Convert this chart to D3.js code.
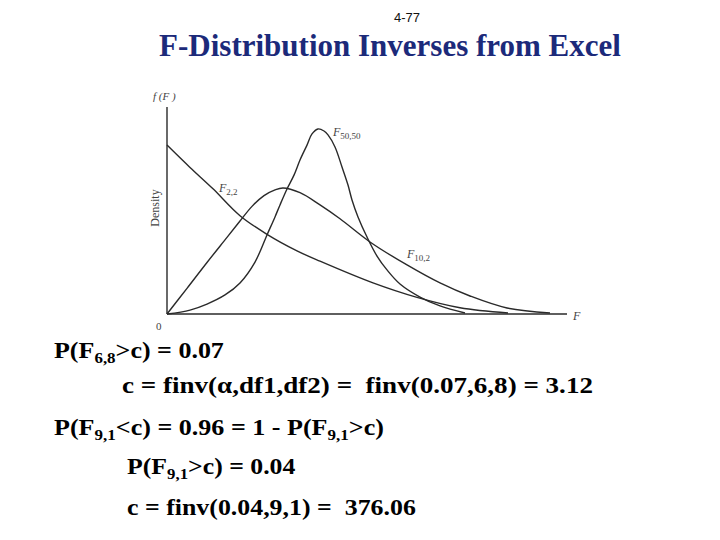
<!DOCTYPE html>
<html>
<head>
<meta charset="utf-8">
<script src="https://cdn.jsdelivr.net/npm/d3@7"></script>
<style>
  html, body { margin: 0; padding: 0; background: #fff; }
  svg { display: block; }
  text { white-space: pre; }
</style>
</head>
<body>
<div id="chart"></div>
<script>
// density curves: [F, density]
const f22 = [[0,0.816],[0.23,0.708],[0.46,0.605],[0.73,0.475],[1.00,0.385],[1.30,0.305],[1.53,0.255],
  [2.06,0.150],[2.50,0.080],[2.93,0.030],[3.41,0.005]];
const f102 = [[0,0],[0.20,0.124],[0.40,0.249],[0.60,0.370],[0.73,0.449],[0.85,0.520],[0.97,0.572],
  [1.08,0.600],[1.16,0.609],[1.33,0.586],[1.53,0.527],[1.73,0.460],[2.03,0.348],[2.40,0.237],
  [2.73,0.150],[3.03,0.087],[3.40,0.029],[3.83,0.005]];
const f5050 = [[0,0],[0.23,0.019],[0.40,0.048],[0.58,0.092],[0.73,0.150],[0.88,0.251],[1.00,0.382],
  [1.08,0.469],[1.13,0.527],[1.20,0.604],[1.27,0.671],[1.33,0.744],[1.40,0.816],[1.45,0.870],
  [1.51,0.894],[1.57,0.884],[1.61,0.865],[1.68,0.807],[1.75,0.710],[1.81,0.623],[1.85,0.551],
  [1.91,0.469],[2.00,0.372],[2.10,0.280],[2.20,0.213],[2.33,0.145],[2.53,0.082],[2.73,0.039],[2.98,0.005]];

// where each curve label sits, in data units
const curveLabels = [
  { main: "F", sub: "2,2", at: [0.52, 0.59] },
  { main: "F", sub: "10,2", at: [2.40, 0.27] },
  { main: "F", sub: "50,50", at: [1.66, 0.86] }
];

// formula lines: [text, isSubscript]
const lines = [
  [["P(F", 0], ["6,8", 1], [">c) = 0.07", 0]],
  [["c = finv(\u03b1,df1,df2) =  finv(0.07,6,8) = 3.12", 0]],
  [["P(F", 0], ["9,1", 1], ["<c) = 0.96 = 1 - P(F", 0], ["9,1", 1], [">c)", 0]],
  [["P(F", 0], ["9,1", 1], [">c) = 0.04", 0]],
  [["c = finv(0.04,9,1) =  376.06", 0]]
];
const lineX = [54, 122, 54, 127, 127];
const lineY = [358, 393, 435, 474, 515];
const lineW = [170, 471, 330, 169, 289];

const width = 720, height = 540;
const svg = d3.select("#chart").append("svg")
  .attr("width", width)
  .attr("height", height);

const serif = "Liberation Serif, Times New Roman, serif";

// header
svg.append("text")
  .attr("x", 407).attr("y", 22)
  .attr("text-anchor", "middle")
  .attr("font-family", "Liberation Sans, Arial, sans-serif")
  .attr("font-size", "13px")
  .attr("fill", "#111")
  .text("4-77");

svg.append("text")
  .attr("x", 390).attr("y", 56)
  .attr("text-anchor", "middle")
  .attr("font-family", serif)
  .attr("font-weight", "bold")
  .attr("font-size", "31px")
  .attr("fill", "#1c2a7a")
  .text("F-Distribution Inverses from Excel");

// figure
const x = d3.scaleLinear().domain([0, 4]).range([167, 567]);
const y = d3.scaleLinear().domain([0, 1]).range([314, 107]);

const fig = svg.append("g");
const ink = "#2a2a2a";

fig.append("line")
  .attr("x1", x(0)).attr("x2", x(0))
  .attr("y1", y(0)).attr("y2", y(1))
  .attr("stroke", ink).attr("stroke-width", 1.4);
fig.append("line")
  .attr("x1", x(0)).attr("x2", x(4))
  .attr("y1", y(0)).attr("y2", y(0))
  .attr("stroke", ink).attr("stroke-width", 1.4);

const line = d3.line()
  .x(d => x(d[0]))
  .y(d => y(d[1]))
  .curve(d3.curveCatmullRom.alpha(0.5));

fig.selectAll("path.curve")
  .data([f22, f102, f5050])
  .join("path")
  .attr("class", "curve")
  .attr("d", line)
  .attr("fill", "none")
  .attr("stroke", ink)
  .attr("stroke-width", 1.4);

curveLabels.forEach(l => {
  const t = fig.append("text")
    .attr("x", x(l.at[0])).attr("y", y(l.at[1]))
    .attr("font-family", serif)
    .attr("font-size", "12px")
    .attr("fill", "#444");
  t.append("tspan").attr("font-style", "italic").text(l.main);
  t.append("tspan").attr("font-size", "9px").attr("dy", 3).text(l.sub);
});

fig.append("text")
  .attr("x", 153).attr("y", 100)
  .attr("font-family", serif).attr("font-style", "italic")
  .attr("font-size", "11px").attr("fill", "#444")
  .text("f (F )");

fig.append("text")
  .attr("transform", "translate(159, 208) rotate(-90)")
  .attr("text-anchor", "middle")
  .attr("font-family", serif)
  .attr("font-size", "12px").attr("fill", "#444")
  .text("Density");

fig.append("text")
  .attr("x", 156).attr("y", 330)
  .attr("font-family", serif)
  .attr("font-size", "11px").attr("fill", "#444")
  .text("0");

fig.append("text")
  .attr("x", 573).attr("y", 320)
  .attr("font-family", serif).attr("font-style", "italic")
  .attr("font-size", "12px").attr("fill", "#444")
  .text("F");

// formulas: bold serif, stretched a little sideways like the slide's font
lines.forEach((segs, i) => {
  const g = svg.append("g");
  const t = g.append("text")
    .attr("x", 0).attr("y", 0)
    .attr("font-family", serif)
    .attr("font-weight", "bold")
    .attr("font-size", "23px")
    .attr("fill", "#000");
  segs.forEach(([s, sub], j) => {
    const prevSub = j > 0 && segs[j - 1][1];
    const sp = t.append("tspan").text(s);
    if (sub) sp.attr("font-size", "15px").attr("dy", 5);
    else if (prevSub) sp.attr("dy", -5);
  });
  const w = t.node().getBBox().width;
  g.attr("transform", `translate(${lineX[i]},${lineY[i]}) scale(${lineW[i] / w},1)`);
});
</script>
</body>
</html>
